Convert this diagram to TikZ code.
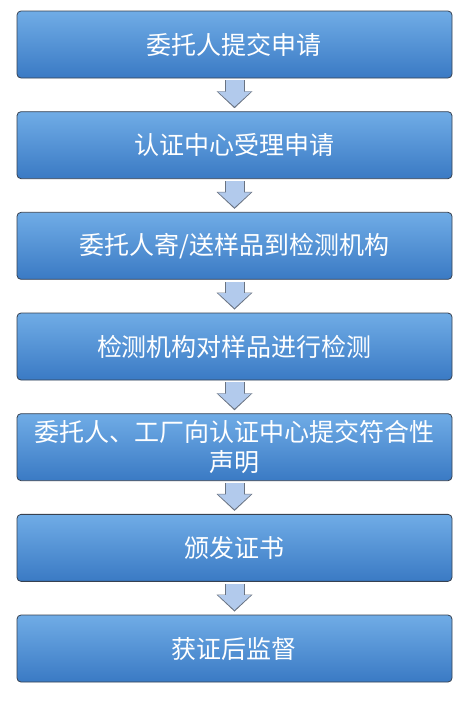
\documentclass[tikz,border=0pt]{standalone}
\usepackage{fontspec}
\newfontfamily\cjk{Noto Sans CJK SC}
\usetikzlibrary{arrows.meta}
\definecolor{boxTop}{RGB}{112,172,230}
\definecolor{boxBottom}{RGB}{58,122,196}
\definecolor{boxLine}{RGB}{55,65,80}
\definecolor{arrowFill}{RGB}{178,202,236}
\definecolor{arrowLine}{RGB}{105,115,130}
\tikzset{
    objBox/.style={rectangle, rounded corners=4pt, minimum width=435pt, minimum height=67pt, inner sep=2pt, text centered, draw=boxLine, line width=0.8pt, top color=boxTop, bottom color=boxBottom, text=white, text width=420pt, align=center, font=\cjk\fontsize{25pt}{30pt}\selectfont},
    arrowOuter/.style={draw=arrowLine, line width=20pt, -{Triangle[width=35pt, length=17pt]}, shorten <=2pt, shorten >=3pt},
    arrowInner/.style={draw=arrowFill, line width=18pt, -{Triangle[width=32pt, length=15pt]}, shorten <=2pt, shorten >=4.6pt}
}
\begin{document}
\begin{tikzpicture}[node distance=100.67pt]
    \useasboundingbox (0,0) rectangle (465pt,-710pt);

    \node (001) [objBox] at (234.5pt,-44.5pt) {委托人提交申请};
    \node (002) [objBox, below of=001] {认证中心受理申请};
    \node (003) [objBox, below of=002] {委托人寄/送样品到检测机构};
    \node (004) [objBox, below of=003] {检测机构对样品进行检测};
    \node (005) [objBox, below of=004] {委托人、工厂向认证中心提交符合性\\声明};
    \node (006) [objBox, below of=005] {颁发证书};
    \node (007) [objBox, below of=006] {获证后监督};

    \draw [arrowOuter] (001) -- (002);
    \draw [arrowInner] (001) -- (002);
    \draw [arrowOuter] (002) -- (003);
    \draw [arrowInner] (002) -- (003);
    \draw [arrowOuter] (003) -- (004);
    \draw [arrowInner] (003) -- (004);
    \draw [arrowOuter] (004) -- (005);
    \draw [arrowInner] (004) -- (005);
    \draw [arrowOuter] (005) -- (006);
    \draw [arrowInner] (005) -- (006);
    \draw [arrowOuter] (006) -- (007);
    \draw [arrowInner] (006) -- (007);

\end{tikzpicture}
\end{document}
